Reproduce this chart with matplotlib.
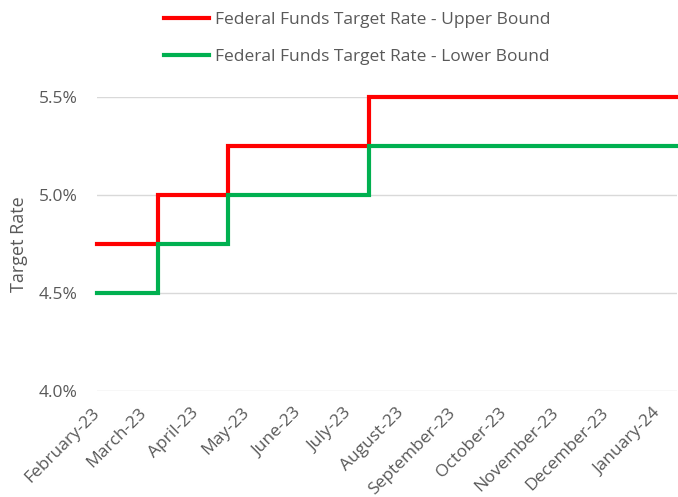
import pandas as pd
import matplotlib.pyplot as plt
import matplotlib.dates as mdates

# dates where the target range changed, plus the last day shown
change_dates = ['2023-02-15', '2023-03-23', '2023-05-04', '2023-07-27']
end_date = '2024-01-26'
upper_bound = [4.75, 5.00, 5.25, 5.50]
lower_bound = [4.50, 4.75, 5.00, 5.25]

tick_labels = ['February-23', 'March-23', 'April-23', 'May-23', 'June-23', 'July-23',
               'August-23', 'September-23', 'October-23', 'November-23',
               'December-23', 'January-24']
y_ticks = [4.0, 4.5, 5.0, 5.5]

plt.rcParams['font.family'] = ['Open Sans', 'DejaVu Sans']
grey = '#595959'

x = pd.to_datetime(change_dates + [end_date])
upper = upper_bound + [upper_bound[-1]]
lower = lower_bound + [lower_bound[-1]]

fig = plt.figure(figsize=(6.78, 4.97), dpi=100)
ax = fig.add_axes([97 / 678, 1 - 391 / 497, 580 / 678, 294 / 497])

ax.plot(x, upper, drawstyle='steps-post', color='#FF0000', lw=3,
        solid_joinstyle='miter', clip_on=False, zorder=3,
        label='Federal Funds Target Rate - Upper Bound')
ax.plot(x, lower, drawstyle='steps-post', color='#00B050', lw=3,
        solid_joinstyle='miter', clip_on=False, zorder=3,
        label='Federal Funds Target Rate - Lower Bound')

ax.set_xlim(x[0], x[-1])
ax.set_ylim(4.0, 5.5)
ax.set_yticks(y_ticks)
ax.set_yticklabels([f'{v:.1f}%' for v in y_ticks], fontsize=12.5, color=grey)
ax.yaxis.grid(True, color='#d9d9d9', lw=1)
ax.set_axisbelow(True)

tick_pos = pd.date_range(x[0], periods=len(tick_labels), freq=pd.DateOffset(months=1))
ax.set_xticks(mdates.date2num(tick_pos))
ax.set_xticklabels(tick_labels, rotation=45, ha='right', va='center',
                   rotation_mode='anchor', fontsize=12.5, color=grey)
ax.tick_params(axis='both', length=0)
ax.tick_params(axis='x', pad=14)
ax.tick_params(axis='y', pad=14)

for s in ax.spines.values():
    s.set_visible(False)

ax.set_ylabel('Target Rate', fontsize=13, color=grey, labelpad=8)

fig.legend(loc='upper left', bbox_to_anchor=(152 / 678, 1.0), frameon=False,
           fontsize=12.5, labelcolor=grey, handlelength=2.6, handletextpad=0.35,
           labelspacing=1.2, borderaxespad=0.3)

plt.savefig('out.png', dpi=100)
